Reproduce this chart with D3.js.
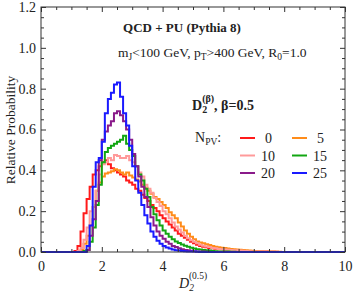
<!DOCTYPE html>
<html><head><meta charset="utf-8">
<script src="https://cdn.jsdelivr.net/npm/d3@7"></script>
<style>
body{margin:0;background:#fff;}
text{font-family:"Liberation Serif","DejaVu Serif",serif;fill:#222;}
</style></head><body>
<svg id="c" width="354" height="296"></svg>
<script>
// histogram bins start at 1.0, width 0.1 (bins outside are zero)
const binStart = 1.0, binWidth = 0.1;
const npv = ["0","5","10","15","20","25"];
const colors = ["#ff1a1a","#ff8c1a","#ff9a9a","#12a612","#8a1a8a","#1a1aff"];
const h0 = [0,0.005,0.03,0.10,0.19,0.26,0.32,0.38,0.40,0.42,
 0.44,0.45,0.43,0.41,0.40,0.39,0.38,0.37,0.35,0.34,
 0.33,0.31,0.30,0.28,0.265,0.25,0.23,0.215,0.20,0.18,
 0.165,0.15,0.135,0.12,0.105,0.09,0.08,0.07,0.06,0.05,
 0.043,0.036,0.03,0.026,0.023,0.02,0.018,0.016,0.014,0.013,
 0.012,0.011,0.01,0.009,0.008,0.007,0.006,0.005,0.004,0.004,
 0.003,0.003,0.002,0.002,0.002,0.001,0.001,0.001,0,0];
const h5 = [0,0,0,0.01,0.04,0.08,0.13,0.22,0.30,0.34,
 0.37,0.385,0.39,0.395,0.405,0.40,0.39,0.38,0.39,0.375,
 0.365,0.355,0.345,0.33,0.315,0.30,0.285,0.27,0.26,0.245,
 0.23,0.215,0.195,0.18,0.165,0.145,0.125,0.105,0.09,0.075,
 0.062,0.052,0.046,0.043,0.038,0.034,0.03,0.026,0.023,0.021,
 0.019,0.017,0.015,0.013,0.012,0.011,0.01,0.009,0.007,0.006,
 0.005,0.004,0.004,0.003,0.003,0.002,0.002,0.001,0.001,0];
const h10 = [0,0,0.005,0.02,0.06,0.12,0.20,0.22,0.30,0.38,
 0.43,0.44,0.46,0.45,0.475,0.47,0.46,0.46,0.47,0.45,
 0.44,0.42,0.39,0.37,0.33,0.31,0.29,0.265,0.245,0.225,
 0.20,0.185,0.165,0.145,0.125,0.11,0.095,0.08,0.067,0.058,
 0.05,0.043,0.036,0.031,0.027,0.024,0.02,0.018,0.015,0.013,
 0.012,0.011,0.01,0.009,0.008,0.007,0.006,0.005,0.004,0.003,
 0.003,0.002,0.002,0.002,0.001,0.001,0.001,0,0,0];
const h15 = [0,0,0,0,0.005,0.01,0.05,0.12,0.23,0.33,
 0.44,0.49,0.51,0.52,0.53,0.54,0.55,0.57,0.53,0.50,
 0.47,0.42,0.38,0.35,0.31,0.27,0.22,0.185,0.155,0.13,
 0.105,0.09,0.075,0.062,0.052,0.044,0.037,0.031,0.026,0.021,
 0.017,0.014,0.012,0.01,0.008,0.007,0.005,0.004,0.003,0.003,
 0.002,0.002,0.001,0.001,0,0,0,0,0,0];
const h20 = [0,0,0,0,0,0.01,0.08,0.16,0.25,0.45,
 0.55,0.59,0.62,0.64,0.68,0.69,0.67,0.64,0.60,0.55,
 0.48,0.42,0.37,0.32,0.27,0.22,0.17,0.13,0.10,0.08,
 0.065,0.05,0.04,0.03,0.025,0.018,0.013,0.01,0.008,0.006,
 0.004,0.003,0.002,0.002,0.001,0,0,0,0,0];
const h25 = [0,0,0,0,0,0.03,0.13,0.32,0.44,0.46,
 0.54,0.68,0.75,0.78,0.82,0.83,0.76,0.68,0.62,0.52,
 0.42,0.35,0.29,0.23,0.18,0.14,0.10,0.075,0.055,0.04,
 0.03,0.022,0.017,0.012,0.009,0.007,0.005,0.004,0.003,0.002,
 0.002,0.001,0,0,0];
const series = [h0,h5,h10,h15,h20,h25];
const xTicks = [0,2,4,6,8,10];
const yTicks = [0,0.2,0.4,0.6,0.8,1.0,1.2];

const svg = d3.select("#c");
const L=41,R=345,T=7,B=252;
const x = d3.scaleLinear().domain([0,10]).range([L,R]);
const y = d3.scaleLinear().domain([0,1.2]).range([B,T]);

// histograms
const line = d3.line().x(d=>x(d[0])).y(d=>y(d[1]));
series.forEach((vals,i)=>{
  const pts=[[0,0]];
  let cur=0;
  vals.forEach((v,k)=>{
    const x0 = binStart + k*binWidth;
    pts.push([x0,cur]); pts.push([x0,v]); cur=v;
  });
  const xe = binStart + vals.length*binWidth;
  pts.push([xe,cur]); pts.push([xe,0]); pts.push([10,0]);
  svg.append("path").attr("d",line(pts)).attr("fill","none")
    .attr("stroke",colors[i]).attr("stroke-width",2).attr("stroke-linejoin","miter");
});

// frame & ticks
svg.append("rect").attr("x",L).attr("y",T).attr("width",R-L).attr("height",B-T)
  .attr("fill","none").attr("stroke","#333").attr("stroke-width",1);
const xMinor = d3.range(0,10.01,0.5).filter(v=>v%2!==0);
const yMinor = d3.range(0,1.201,0.05).filter(v=>Math.abs(v*5-Math.round(v*5))>1e-6);
function axis(g, ax){ g.call(ax); g.select(".domain").remove(); g.selectAll("line").attr("stroke","#333"); }
axis(svg.append("g").attr("transform",`translate(0,${B})`),
  d3.axisBottom(x).tickValues(xTicks).tickSize(-5).tickPadding(9).tickFormat(d3.format("d")));
axis(svg.append("g").attr("transform",`translate(0,${B})`),
  d3.axisBottom(x).tickValues(xMinor).tickSize(-3).tickFormat(""));
axis(svg.append("g").attr("transform",`translate(0,${T})`),
  d3.axisTop(x).tickValues(xTicks).tickSize(-5).tickFormat(""));
axis(svg.append("g").attr("transform",`translate(0,${T})`),
  d3.axisTop(x).tickValues(xMinor).tickSize(-3).tickFormat(""));
axis(svg.append("g").attr("transform",`translate(${L},0)`),
  d3.axisLeft(y).tickValues(yTicks).tickSize(-5).tickPadding(5).tickFormat(d3.format(".1f")));
axis(svg.append("g").attr("transform",`translate(${L},0)`),
  d3.axisLeft(y).tickValues(yMinor).tickSize(-3).tickFormat(""));
axis(svg.append("g").attr("transform",`translate(${R},0)`),
  d3.axisRight(y).tickValues(yTicks).tickSize(-5).tickFormat(""));
axis(svg.append("g").attr("transform",`translate(${R},0)`),
  d3.axisRight(y).tickValues(yMinor).tickSize(-3).tickFormat(""));
svg.selectAll(".tick text").attr("font-family","Liberation Serif").attr("font-size",14).attr("fill","#222");

// texts
svg.append("text").attr("x",182).attr("y",32).attr("text-anchor","middle")
  .attr("font-size",13).attr("font-weight","bold").text("QCD + PU (Pythia 8)");
const t2 = svg.append("text").attr("x",118).attr("y",57).attr("font-size",13.5);
t2.append("tspan").text("m");
t2.append("tspan").attr("font-size",9.5).attr("dy",3).text("J");
t2.append("tspan").attr("dy",-3).text("<100 GeV, p");
t2.append("tspan").attr("font-size",9.5).attr("dy",3).text("T");
t2.append("tspan").attr("dy",-3).text(">400 GeV, R");
t2.append("tspan").attr("font-size",9.5).attr("dy",3).text("0");
t2.append("tspan").attr("dy",-3).text("=1.0");
const t3 = svg.append("text").attr("x",192).attr("y",110).attr("font-size",14).attr("font-weight","bold");
t3.append("tspan").text("D");
t3.append("tspan").attr("font-size",10).attr("dy",3).text("2");
t3.append("tspan").attr("font-size",10).attr("dx",-5).attr("dy",-11).text("(β)");
t3.append("tspan").attr("dy",8).text(", β=0.5");
const t4 = svg.append("text").attr("x",195).attr("y",142).attr("font-size",14);
t4.append("tspan").text("N");
t4.append("tspan").attr("font-size",9.5).attr("dy",3).text("PV");
t4.append("tspan").attr("dy",-3).text(":");
// legend
npv.forEach((n,i)=>{
  const col=i%2, row=Math.floor(i/2);
  const lx = col===0?240:292, ly = 138+row*17.5;
  svg.append("line").attr("x1",lx).attr("x2",lx+15).attr("y1",ly).attr("y2",ly)
    .attr("stroke",colors[i]).attr("stroke-width",2);
  svg.append("text").attr("x",lx+(n.length>1?21:25)).attr("y",ly+5).attr("font-size",14).text(n);
});
// axis labels
const xl = svg.append("text").attr("x",179).attr("y",288).attr("font-size",14).attr("font-style","italic");
xl.append("tspan").text("D");
xl.append("tspan").attr("font-size",9.5).attr("dy",3).text("2");
xl.append("tspan").attr("font-size",9.5).attr("dx",-5).attr("dy",-12).attr("font-style","normal").text("(0.5)");
svg.append("text").attr("transform","translate(15,130) rotate(-90)").attr("text-anchor","middle")
  .attr("font-size",13.5).text("Relative Probability");
</script>
</body></html>
